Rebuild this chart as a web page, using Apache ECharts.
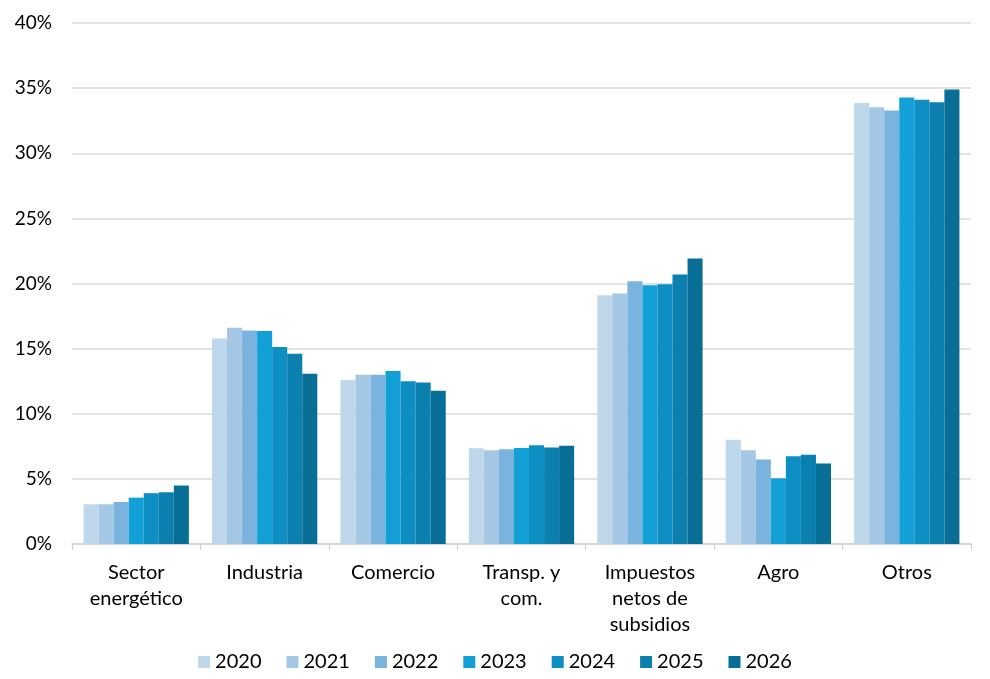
<!DOCTYPE html>
<html>
<head>
<meta charset="utf-8">
<script src="https://cdn.jsdelivr.net/npm/echarts@6/dist/echarts.min.js"></script>
<style>
  html, body { margin: 0; padding: 0; background: #fff; }
  #chart { width: 990px; height: 679px; }
</style>
</head>
<body>
<div id="chart"></div>
<script>
// data (% of total)
var categories = ['Sector\nenergético', 'Industria', 'Comercio', 'Transp. y\ncom.', 'Impuestos\nnetos de\nsubsidios', 'Agro', 'Otros'];
var years = ['2020', '2021', '2022', '2023', '2024', '2025', '2026'];
var v2020 = [3.05, 15.77, 12.6, 7.36, 19.1, 8.0, 33.85];
var v2021 = [3.05, 16.6, 13.0, 7.2, 19.23, 7.2, 33.54];
var v2022 = [3.23, 16.4, 13.0, 7.28, 20.18, 6.49, 33.28];
var v2023 = [3.56, 16.36, 13.28, 7.38, 19.87, 5.05, 34.28];
var v2024 = [3.9, 15.13, 12.5, 7.59, 19.95, 6.74, 34.1];
var v2025 = [3.97, 14.6, 12.4, 7.41, 20.7, 6.85, 33.92];
var v2026 = [4.49, 13.08, 11.77, 7.54, 21.92, 6.18, 34.9];
var yTicks = [0, 5, 10, 15, 20, 25, 30, 35, 40];

var colors = ['#bfd7ea', '#a3c7e4', '#7ab4de', '#12a0d7', '#0d8fc4', '#0b7fae', '#096e96'];
var allValues = [v2020, v2021, v2022, v2023, v2024, v2025, v2026];

var series = [];
for (var i = 0; i < years.length; i++) {
    series.push({
        name: years[i],
        type: 'bar',
        data: allValues[i],
        barGap: '0%',
        barCategoryGap: '18%',
        itemStyle: { color: colors[i] }
    });
}

var chart = echarts.init(document.getElementById('chart'));
chart.setOption({
    animation: false,
    textStyle: { fontFamily: 'Lato, "Open Sans", sans-serif' },
    grid: { left: 72, right: 19, top: 23, bottom: 135, containLabel: false },
    legend: {
        data: years,
        bottom: 2,
        left: 'center',
        itemWidth: 12,
        itemHeight: 12,
        itemGap: 25,
        icon: 'rect',
        textStyle: { fontSize: 20, color: '#000', fontFamily: 'Lato, sans-serif' }
    },
    xAxis: {
        type: 'category',
        data: categories,
        axisLine: { lineStyle: { color: '#d0d0d0', width: 1.5 } },
        axisTick: { show: true, length: 6, lineStyle: { color: '#d0d0d0' } },
        axisLabel: {
            interval: 0,
            fontSize: 20,
            color: '#000',
            lineHeight: 26,
            margin: 16,
            fontFamily: 'Lato, sans-serif'
        }
    },
    yAxis: {
        type: 'value',
        min: yTicks[0],
        max: yTicks[yTicks.length - 1],
        interval: 5,
        axisLine: { show: false },
        axisTick: { show: false },
        splitLine: { lineStyle: { color: '#d9d9d9', width: 1.5 } },
        axisLabel: {
            fontSize: 19,
            color: '#000',
            margin: 20,
            formatter: '{value}%',
            fontFamily: 'Lato, sans-serif'
        }
    },
    series: series
});
</script>
</body>
</html>
